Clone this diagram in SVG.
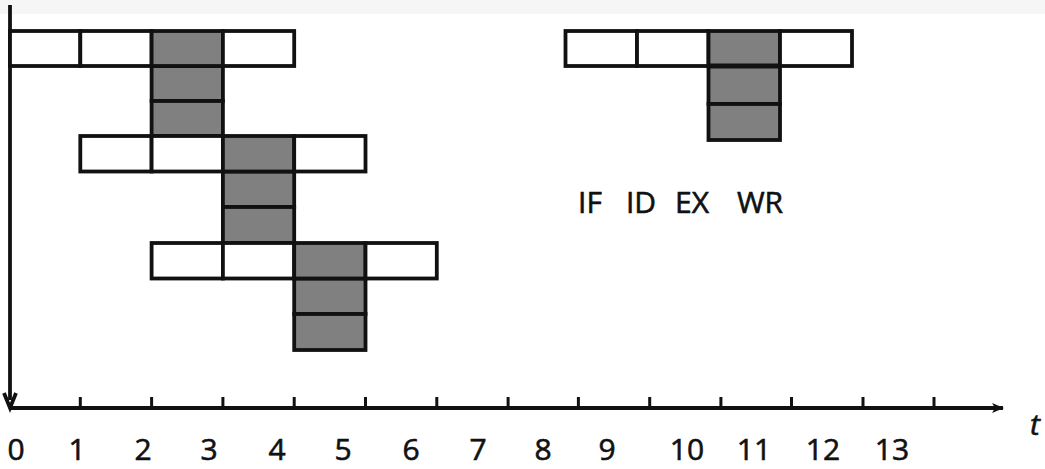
<svg xmlns="http://www.w3.org/2000/svg" width="1045" height="469" viewBox="0 0 1045 469">
<style>
.w{fill:#ffffff;stroke:#111111;stroke-width:3.8}
.g{fill:#808080;stroke:#111111;stroke-width:3.8}
.ax{stroke:#111111;stroke-width:3.8;fill:none}
.tk{stroke:#111111;stroke-width:3}
.lb{font-family:"Open Sans","Liberation Sans",sans-serif;font-size:30px;fill:#111111;stroke:#111111;stroke-width:0.6}
</style>
<defs>
<marker id="ah" markerWidth="12" markerHeight="10" refX="11" refY="5" orient="auto" markerUnits="userSpaceOnUse">
<path d="M0,0 L12,5 L0,10 L3,5 Z" fill="#111111"/>
</marker>
</defs>
<rect x="0" y="0" width="1045" height="469" fill="#ffffff"/>
<rect x="0" y="0" width="1045" height="14" fill="#f6f6f6"/>
<g id="axes">
<line class="ax" x1="10" y1="5" x2="10" y2="400"/>
<path d="M4,393 L10,408 L16,393" class="ax" stroke-width="3"/>
<line class="ax" x1="9" y1="408" x2="1003" y2="408" marker-end="url(#ah)"/>
<g class="tk">
<line x1="80.3" y1="397" x2="80.3" y2="408"/>
<line x1="151.6" y1="397" x2="151.6" y2="408"/>
<line x1="222.9" y1="397" x2="222.9" y2="408"/>
<line x1="294.2" y1="397" x2="294.2" y2="408"/>
<line x1="365.5" y1="397" x2="365.5" y2="408"/>
<line x1="436.8" y1="397" x2="436.8" y2="408"/>
<line x1="508.1" y1="397" x2="508.1" y2="408"/>
<line x1="578.4" y1="397" x2="578.4" y2="408"/>
<line x1="649.7" y1="397" x2="649.7" y2="408"/>
<line x1="720.9" y1="397" x2="720.9" y2="408"/>
<line x1="791.5" y1="397" x2="791.5" y2="408"/>
<line x1="863" y1="397" x2="863" y2="408"/>
<line x1="934" y1="397" x2="934" y2="408"/>
</g>
<text x="1035" y="435" text-anchor="middle" class="lb" font-style="italic">t</text>
</g>
<g id="ticklabels" class="lb" text-anchor="middle">
<text x="16" y="460">0</text>
<text x="77" y="460">1</text>
<text x="143" y="460">2</text>
<text x="209" y="460">3</text>
<text x="277" y="460">4</text>
<text x="343" y="460">5</text>
<text x="411" y="460">6</text>
<text x="478" y="460">7</text>
<text x="543" y="460">8</text>
<text x="607" y="460">9</text>
<text x="687" y="460">10</text>
<text x="754" y="460">11</text>
<text x="823" y="460">12</text>
<text x="892" y="460">13</text>
</g>
<g id="instr1">
<rect class="g" x="151.6" y="66" width="71.3" height="35"/>
<rect class="g" x="151.6" y="101" width="71.3" height="35"/>
<rect class="w" x="10" y="31" width="70.3" height="35"/>
<rect class="w" x="80.3" y="31" width="71.3" height="35"/>
<rect class="g" x="151.6" y="31" width="71.3" height="35"/>
<rect class="w" x="222.9" y="31" width="71.3" height="35"/>
</g>
<g id="instr2">
<rect class="g" x="222.9" y="171.5" width="71.3" height="35.5"/>
<rect class="g" x="222.9" y="207" width="71.3" height="36"/>
<rect class="w" x="80.3" y="136" width="71.3" height="35.5"/>
<rect class="w" x="151.6" y="136" width="71.3" height="35.5"/>
<rect class="g" x="222.9" y="136" width="71.3" height="35.5"/>
<rect class="w" x="294.2" y="136" width="71.3" height="35.5"/>
</g>
<g id="instr3">
<rect class="g" x="294.2" y="278.5" width="71.3" height="35.5"/>
<rect class="g" x="294.2" y="314" width="71.3" height="36"/>
<rect class="w" x="151.6" y="243" width="71.3" height="35.5"/>
<rect class="w" x="222.9" y="243" width="71.3" height="35.5"/>
<rect class="g" x="294.2" y="243" width="71.3" height="35.5"/>
<rect class="w" x="365.5" y="243" width="71.3" height="35.5"/>
</g>
<g id="legend">
<rect class="g" x="708.5" y="66" width="71.5" height="38"/>
<rect class="g" x="708.5" y="104" width="71.5" height="36"/>
<rect class="w" x="565.5" y="31" width="71.5" height="35"/>
<rect class="w" x="637" y="31" width="71.5" height="35"/>
<rect class="g" x="708.5" y="31" width="71.5" height="35"/>
<rect class="w" x="780" y="31" width="72" height="35"/>
<line x1="708.5" y1="66" x2="780" y2="66" stroke="#111111" stroke-width="5"/>
</g>
<g id="legend-labels" class="lb" text-anchor="middle">
<text x="590" y="213">IF</text>
<text x="641" y="213">ID</text>
<text x="692" y="213">EX</text>
<text x="760" y="213">WR</text>
</g>
</svg>
